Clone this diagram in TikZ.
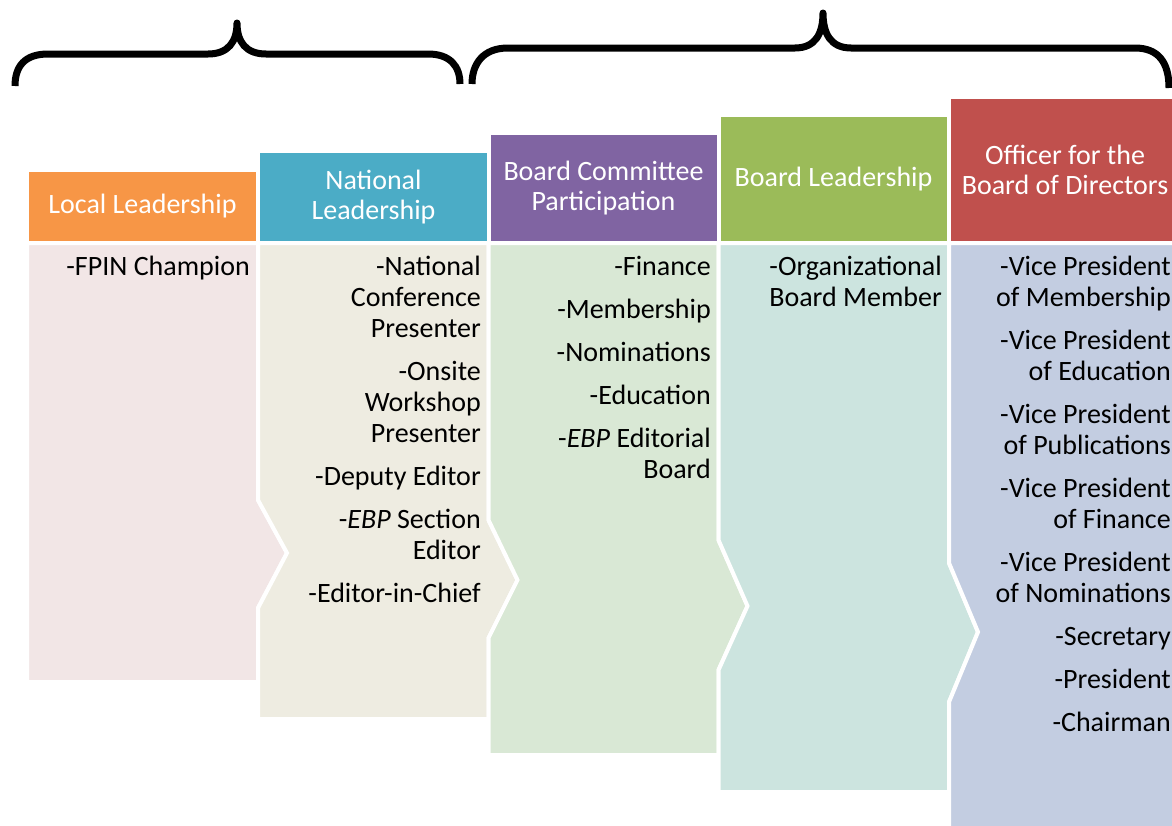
\documentclass[tikz,border=0pt]{standalone}
\usepackage{fontspec}
\setmainfont{Carlito}
\definecolor{hdlocal}{HTML}{F79646}
\definecolor{hdnational}{HTML}{4BACC6}
\definecolor{hdcommittee}{HTML}{8064A2}
\definecolor{hdboard}{HTML}{9BBB59}
\definecolor{hdofficer}{HTML}{C0504D}
\definecolor{bdlocal}{HTML}{F2E6E6}
\definecolor{bdnational}{HTML}{EEECE1}
\definecolor{bdcommittee}{HTML}{D9E8D5}
\definecolor{bdboard}{HTML}{CCE4DF}
\definecolor{bdofficer}{HTML}{C3CDE1}
\begin{document}
\begin{tikzpicture}[x=1pt,y=-1pt,
		pane/.style={draw=white,line width=4pt},
		hdr/.style={text=white,align=center,inner sep=0pt,font=\fontsize{28}{30.5}\selectfont},
		items/.style={align=right,anchor=north east,inner sep=0pt,font=\fontsize{28}{31}\selectfont},
		brace/.style={line width=7pt,line join=round}]
		\clip (0,0) rectangle (1172,825);

		\draw[brace] (15,86) .. controls (15,66) and (25,54) .. (48,54) -- (208,54) .. controls (228,54) and (237,42) .. (237,23) .. controls (237,42) and (246,54) .. (266,54) -- (428,54) .. controls (450,54) and (460,66) .. (460,84);
		\draw[brace] (472,84) .. controls (472,64) and (483,48) .. (508,48) -- (795,48) .. controls (815,48) and (823,34) .. (823,13) .. controls (823,34) and (831,48) .. (851,48) -- (1135,48) .. controls (1158,48) and (1169,62) .. (1169,88);

		\draw[pane,fill=hdlocal] (27,170) rectangle (258,243);
		\draw[pane,fill=hdnational] (258,151) rectangle (488.5,243);
		\draw[pane,fill=hdcommittee] (488.5,133) rectangle (718.5,243);
		\draw[pane,fill=hdboard] (718.5,115) rectangle (949,243);
		\draw[pane,fill=hdofficer] (949,97) rectangle (1181,243);

		\draw[pane,fill=bdlocal] (27,243) -- (258,243) -- (258,500) -- (287,553) -- (258,608) -- (258,682) -- (27,682) -- cycle;
		\draw[pane,fill=bdnational] (258,243) -- (488.5,243) -- (488.5,520) -- (517.5,580) -- (488.5,638) -- (488.5,719) -- (258,719) -- (258,608) -- (287,553) -- (258,500) -- cycle;
		\draw[pane,fill=bdcommittee] (488.5,243) -- (718.5,243) -- (718.5,540) -- (747.5,606) -- (718.5,670) -- (718.5,755) -- (488.5,755) -- (488.5,638) -- (517.5,580) -- (488.5,520) -- cycle;
		\draw[pane,fill=bdboard] (718.5,243) -- (949,243) -- (949,563) -- (978,632) -- (949,702) -- (949,792) -- (718.5,792) -- (718.5,670) -- (747.5,606) -- (718.5,540) -- cycle;
		\draw[pane,fill=bdofficer] (949,243) -- (1181,243) -- (1181,830) -- (949,830) -- (949,702) -- (978,632) -- (949,563) -- cycle;

		\draw (142.5,206.5) node[hdr] (localhd) {Local Leadership};
		\draw (373.5,197) node[hdr] (nationalhd) {National\\Leadership};
		\draw (603.5,188) node[hdr] (committeehd) {Board Committee\\Participation};
		\draw (833.5,179) node[hdr] (boardhd) {Board Leadership};
		\draw (1065,170) node[hdr] (officerhd) {Officer for the\\Board of Directors};

		\draw (250,256) node[items] (localitems) {-FPIN Champion};
		\draw (481,256) node[items] (nationalitems) {-National\\Conference\\Presenter\\[12pt]-Onsite\\Workshop\\Presenter\\[12pt]-Deputy Editor\\[12pt]-\textit{EBP} Section\\Editor\\[12pt]-Editor-in-Chief};
		\draw (711,256) node[items] (committeeitems) {-Finance\\[12pt]-Membership\\[12pt]-Nominations\\[12pt]-Education\\[12pt]-\textit{EBP} Editorial\\Board};
		\draw (942,256) node[items] (boarditems) {-Organizational\\Board Member};
		\draw (1171,256) node[items] (officeritems) {-Vice President\\of Membership\\[12pt]-Vice President\\of Education\\[12pt]-Vice President\\of Publications\\[12pt]-Vice President\\of Finance\\[12pt]-Vice President\\of Nominations\\[12pt]-Secretary\\[12pt]-President\\[12pt]-Chairman};
	\end{tikzpicture}
\end{document}
